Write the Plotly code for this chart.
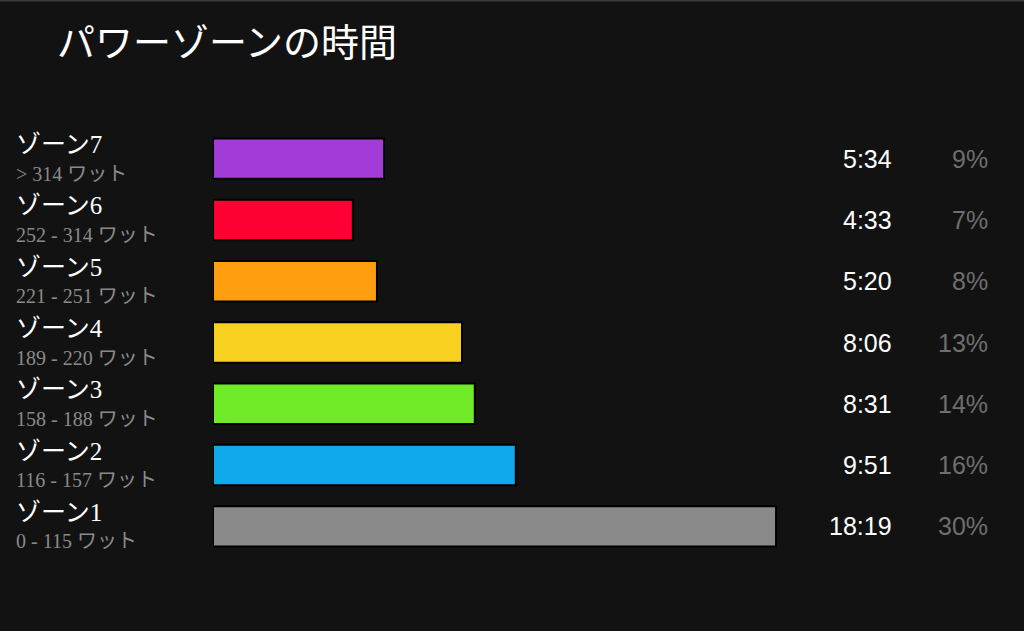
import plotly.graph_objects as go

# zone data, bottom (zone 1) to top (zone 7)
zones = ["ゾーン1", "ゾーン2", "ゾーン3", "ゾーン4", "ゾーン5", "ゾーン6", "ゾーン7"]
ranges = ["0 - 115 ワット", "116 - 157 ワット", "158 - 188 ワット", "189 - 220 ワット",
          "221 - 251 ワット", "252 - 314 ワット", "> 314 ワット"]
times = ["18:19", "9:51", "8:31", "8:06", "5:20", "4:33", "5:34"]
percents = ["30%", "16%", "14%", "13%", "8%", "7%", "9%"]
colors = ["#8a8a8a", "#10a9ec", "#70eb28", "#f8d120", "#ff9f10", "#ff0033", "#a13cd6"]

W, H = 1024, 631
T, B = 128, 74
BG = "#121212"
PLOT_H = H - T - B


def to_seconds(t):
    m, s = t.split(":")
    return int(m) * 60 + int(s)


def paper_y(px):
    # pixel row from the top of the page -> paper y
    return (H - B - px) / PLOT_H


seconds = [to_seconds(t) for t in times]

fig = go.Figure()
fig.add_trace(
    go.Bar(
        x=seconds, y=zones, orientation="h",
        marker=dict(color=colors, line=dict(color="#000000", width=2)),
        width=0.66, hoverinfo="skip",
    )
)

annotations = []
for zone, rng, t, pct in zip(zones, ranges, times, percents):
    annotations.append(dict(
        x=14 / W, y=zone, xref="paper", yref="y", text=zone, showarrow=False,
        xanchor="left", yanchor="middle", yshift=14,
        font=dict(family="Liberation Serif, Noto Sans CJK JP", size=25, color="#ffffff"),
    ))
    annotations.append(dict(
        x=14 / W, y=zone, xref="paper", yref="y", text=rng.replace(" ワ", " ワ"),
        showarrow=False, xanchor="left", yanchor="middle", yshift=-15,
        font=dict(family="Liberation Serif, Noto Sans CJK JP", size=20, color="#8a8a8a"),
    ))
    annotations.append(dict(
        x=894 / W, y=zone, xref="paper", yref="y", text=t, showarrow=False,
        xanchor="right", yanchor="middle",
        font=dict(family="Liberation Sans, Arial", size=25, color="#ffffff"),
    ))
    annotations.append(dict(
        x=990 / W, y=zone, xref="paper", yref="y", text=pct, showarrow=False,
        xanchor="right", yanchor="middle",
        font=dict(family="Liberation Sans, Arial", size=25, color="#6e6e6e"),
    ))

annotations.append(dict(
    x=55 / W, y=paper_y(39), xref="paper", yref="paper", text="パワーゾーンの時間",
    showarrow=False, xanchor="left", yanchor="middle",
    font=dict(family="Noto Sans CJK JP", size=38, color="#ffffff"),
))

fig.update_layout(
    width=W, height=H,
    paper_bgcolor=BG, plot_bgcolor=BG,
    margin=dict(l=0, r=0, t=T, b=B),
    showlegend=False,
    annotations=annotations,
    shapes=[dict(type="line", xref="paper", yref="paper", x0=0, x1=1,
                 y0=paper_y(0.5), y1=paper_y(0.5),
                 line=dict(color="#3a3a3a", width=2))],
)
fig.update_xaxes(domain=[213 / W, 1], range=[0, 1583], visible=False, fixedrange=True)
fig.update_yaxes(range=[-0.5, 6.5], visible=False, fixedrange=True)

fig.write_html(
    "out.html",
    config={"displayModeBar": False},
    post_script="document.body.style.margin='0';document.body.style.background='#121212';",
)
